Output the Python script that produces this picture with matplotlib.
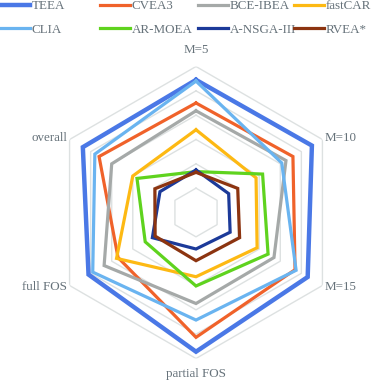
import numpy as np
import matplotlib
matplotlib.use("Agg")
import matplotlib.pyplot as plt
from matplotlib.lines import Line2D

plt.rcParams['font.family'] = ['Liberation Serif', 'DejaVu Serif']

axes_labels = ["M=5", "M=10", "M=15", "partial FOS", "full FOS", "overall"]

teea = [5.45, 5.5, 5.3, 5.72, 5.1, 5.37]
cvea3 = [4.5, 4.6, 4.7, 5.13, 3.7, 4.6]
bce_ibea = [4.18, 4.27, 3.7, 3.74, 4.36, 4.0]
fastcar = [3.4, 2.85, 2.9, 2.64, 3.77, 3.0]
clia = [5.4, 4.07, 4.75, 4.42, 4.9, 4.8]
ar_moea = [1.68, 3.16, 3.42, 3.02, 2.41, 2.8]
a_nsga3 = [1.75, 1.55, 1.62, 1.5, 2.07, 1.71]
rvea = [1.65, 1.98, 2.07, 1.98, 1.94, 1.95]

names = ["TEEA", "CVEA3", "BCE-IBEA", "fastCAR", "CLIA", "AR-MOEA", "A-NSGA-III", "RVEA*"]
series = [teea, cvea3, bce_ibea, fastcar, clia, ar_moea, a_nsga3, rvea]
colors = ["#4a78e6", "#f0622a", "#a5a9a8", "#fdb913", "#6ab4f0", "#5fd31e", "#1c3a99", "#8c3410"]
widths = [3.2, 2.3, 2.3, 2.3, 2.3, 2.3, 2.3, 2.3]

rings = [1, 2, 3, 4, 5, 6]
text_color = "#66727a"

W, H = 374, 381
fig = plt.figure(figsize=(W / 100, H / 100), dpi=100)
cx, cy, R = 196, 212.5, 146
ax = fig.add_axes([(cx - R) / W, (H - cy - R) / H, 2 * R / W, 2 * R / H], projection="polar")
ax.set_theta_zero_location("N")
ax.set_theta_direction(-1)
ax.set_ylim(0, 6)
ax.axis("off")

theta = np.linspace(0, 2 * np.pi, len(axes_labels), endpoint=False)
theta_c = np.append(theta, theta[0])

for r in rings:
    ax.plot(theta_c, [r] * len(theta_c), color="#dde1e1", lw=1.0, zorder=1)

for vals, name, c, lw in zip(series, names, colors, widths):
    v = list(vals) + [vals[0]]
    ax.plot(theta_c, v, color=c, lw=lw, label=name, zorder=3, solid_joinstyle="miter")

# axis labels
fs = 9.4
ax.text(theta[0], 6.68, axes_labels[0], ha="center", va="center", color=text_color, fontsize=fs)
ax.text(theta[1], 6.12, axes_labels[1], ha="left", va="center", color=text_color, fontsize=fs)
ax.text(theta[2], 6.12, axes_labels[2], ha="left", va="center", color=text_color, fontsize=fs)
ax.text(theta[3], 6.62, axes_labels[3], ha="center", va="center", color=text_color, fontsize=fs)
ax.text(theta[4], 6.12, axes_labels[4], ha="right", va="center", color=text_color, fontsize=fs)
ax.text(theta[5], 6.12, axes_labels[5], ha="right", va="center", color=text_color, fontsize=fs)

# legend: 4 columns of 2 rows each, fixed column positions
col_x = [0, 100, 198, 294]
for k, x in enumerate(col_x):
    idx = [k, k + 4]
    handles = [Line2D([], [], color=colors[i], lw=widths[i]) for i in idx]
    leg = fig.legend(handles, [names[i] for i in idx], loc="upper left",
                     bbox_to_anchor=(x / W, 1.0), frameon=False, fontsize=fs,
                     handlelength=2.25, handletextpad=0.15, labelspacing=0.85,
                     borderaxespad=0, borderpad=0.02)
    for t in leg.get_texts():
        t.set_color(text_color)

fig.savefig("out.png", dpi=100)
